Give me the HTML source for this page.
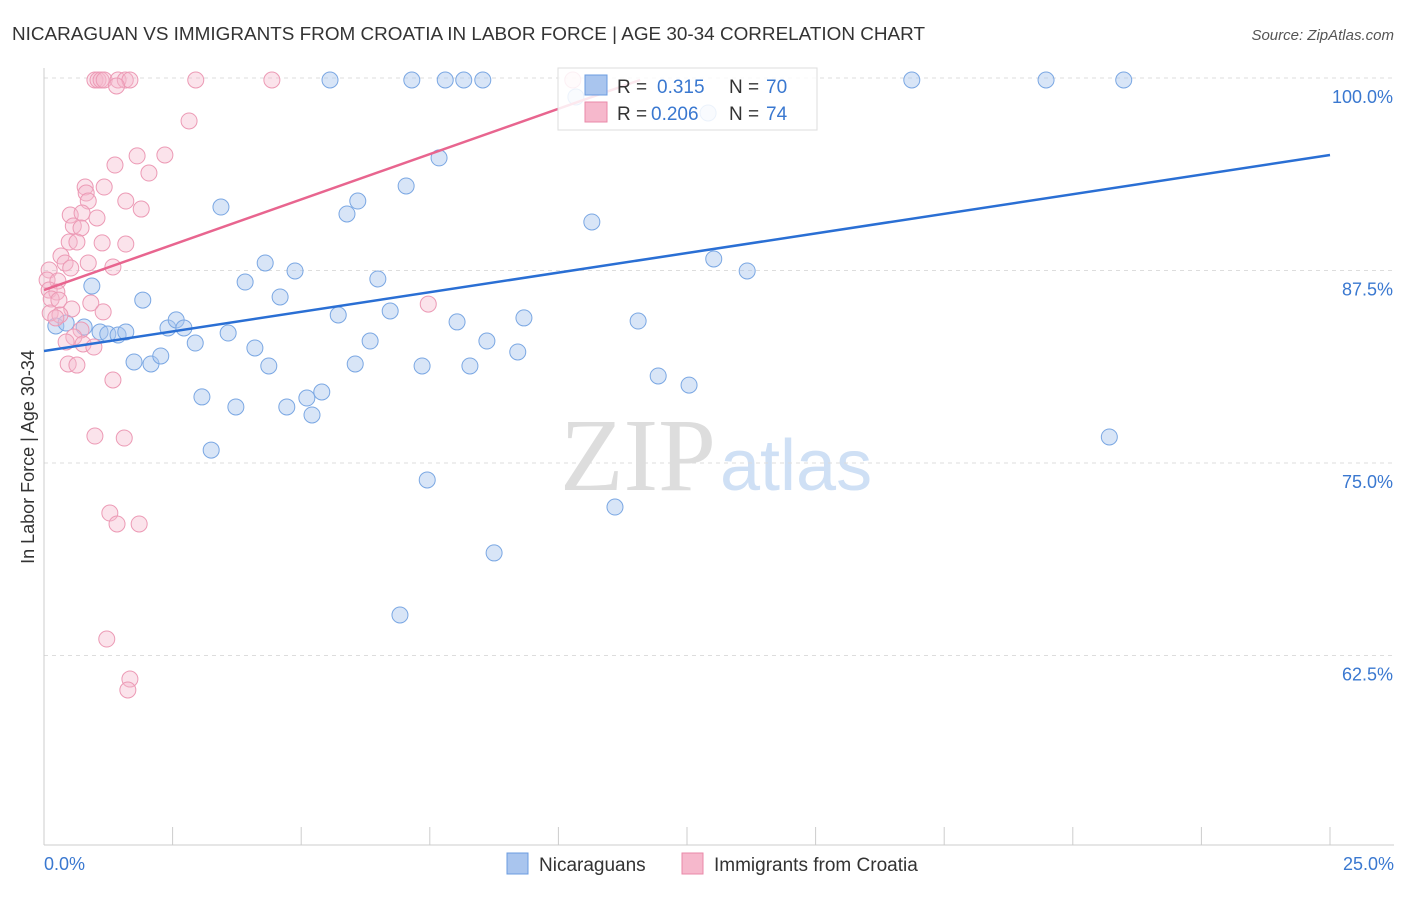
<!DOCTYPE html>
<html><head><meta charset="utf-8"><style>
body{margin:0;background:#fff;font-family:"Liberation Sans",sans-serif;}
</style></head><body>
<svg id="chart" width="1406" height="892" xmlns="http://www.w3.org/2000/svg" font-family="Liberation Sans, sans-serif">
<text x="12" y="40" font-size="18" fill="#333" textLength="913" lengthAdjust="spacingAndGlyphs">NICARAGUAN VS IMMIGRANTS FROM CROATIA IN LABOR FORCE | AGE 30-34 CORRELATION CHART</text>
<text x="1394" y="40" font-size="15" fill="#555" text-anchor="end" font-style="italic">Source: ZipAtlas.com</text>
<text x="716" y="490" font-size="104" fill="#ddd" text-anchor="end" font-family="Liberation Serif, serif">ZIP</text>
<text x="720" y="490" font-size="72" fill="#cfe0f5">atlas</text>
<g id="grid"></g><g id="axes"></g><g id="points"></g><g id="trends"></g>
<text transform="translate(34,457) rotate(-90)" font-size="18" fill="#333" text-anchor="middle">In Labor Force | Age 30-34</text>
<g>
<rect x="558" y="68" width="259" height="62" fill="#fff" fill-opacity="0.85" stroke="#ddd"/>
<rect x="585" y="75" width="22" height="20" fill="#a9c5ee" stroke="#6b9ce0"/>
<text x="617" y="93" font-size="19" fill="#333">R =</text><text x="657" y="93" font-size="19" fill="#3a78d0">0.315</text>
<text x="729" y="93" font-size="19" fill="#333">N =</text><text x="766" y="93" font-size="19" fill="#3a78d0">70</text>
<rect x="585" y="102" width="22" height="20" fill="#f6b8cc" stroke="#e989a8"/>
<text x="617" y="120" font-size="19" fill="#333">R =</text><text x="651" y="120" font-size="19" fill="#3a78d0">0.206</text>
<text x="729" y="120" font-size="19" fill="#333">N =</text><text x="766" y="120" font-size="19" fill="#3a78d0">74</text>
</g>
<g>
<rect x="507" y="853" width="21" height="21" fill="#a9c5ee" stroke="#6b9ce0"/>
<text x="539" y="871" font-size="19" fill="#333">Nicaraguans</text>
<rect x="682" y="853" width="21" height="21" fill="#f6b8cc" stroke="#e989a8"/>
<text x="714" y="871" font-size="19" fill="#333">Immigrants from Croatia</text>
</g>
</svg>
<script>
const xTicks=[0,2.5,5,7.5,10,12.5,15,17.5,20,22.5,25];
const yTicks=[100,87.5,75,62.5];
const yTickLabels=["100.0%","87.5%","75.0%","62.5%"];
const xEndLabels=["0.0%","25.0%"];
const blueX=[5.56,7.15,7.80,8.16,8.53,16.87,19.48,20.99,7.68,7.04,3.44,6.10,5.89,10.65,4.30,4.88,3.91,6.49,13.02,13.67,0.93,1.92,4.59,5.72,6.73,8.03,9.33,11.55,0.23,0.43,0.78,1.09,1.24,1.44,1.59,2.41,2.57,2.72,2.94,3.58,4.10,6.34,8.61,9.21,1.75,2.08,2.27,4.37,6.05,7.35,8.28,11.94,12.54,3.07,3.73,4.72,5.11,5.40,5.21,3.25,7.45,11.10,8.75,6.92,20.71,10.34,12.91];
const blueY=[99.87,99.87,99.87,99.87,99.87,99.87,99.87,99.87,94.81,92.99,91.62,92.01,91.17,90.65,87.99,87.47,86.75,86.95,88.25,87.47,86.49,85.58,85.78,84.61,84.87,84.16,84.42,84.22,83.90,84.09,83.83,83.51,83.38,83.31,83.51,83.77,84.29,83.77,82.79,83.44,82.47,82.92,82.92,82.21,81.56,81.43,81.95,81.30,81.43,81.30,81.30,80.65,80.06,79.29,78.64,78.64,79.22,79.61,78.12,75.84,73.90,72.14,69.16,65.13,76.69,98.77,97.73];
const pinkX=[0.99,1.05,1.11,1.17,1.44,1.58,1.67,2.95,4.43,10.28,1.41,2.82,1.81,2.35,1.38,2.04,0.80,1.17,0.82,0.86,1.59,1.89,0.51,0.74,1.03,0.57,0.72,0.49,0.64,1.13,1.59,0.33,0.41,0.86,0.52,1.34,0.10,0.06,0.27,0.10,0.25,0.14,0.29,0.91,0.54,1.15,0.12,0.31,0.23,0.72,0.58,0.43,0.76,0.97,0.47,0.64,1.34,7.47,0.99,1.56,1.28,1.42,1.85,1.22,1.67,1.63];
const pinkY=[99.87,99.87,99.87,99.87,99.87,99.87,99.87,99.87,99.87,99.87,99.48,97.21,94.94,95.00,94.35,93.83,92.92,92.92,92.53,92.01,92.01,91.49,91.10,91.23,90.91,90.39,90.26,89.35,89.35,89.29,89.22,88.44,87.99,87.99,87.66,87.73,87.53,86.88,86.82,86.23,86.10,85.65,85.58,85.39,85.00,84.81,84.74,84.61,84.42,83.64,83.18,82.86,82.73,82.53,81.43,81.36,80.39,85.32,76.75,76.62,71.75,71.04,71.04,63.57,60.97,60.26];
const blueTrendX=[0,25], blueTrendY=[82.27,95.0];
const pinkTrendX=[0,11.59], pinkTrendY=[86.23,99.87];
const NS="http://www.w3.org/2000/svg";
const sx=v=>44+v/25*1286, sy=v=>78+(100-v)/12.5*192.5;
function mk(t,a,p){const e=document.createElementNS(NS,t);for(const k in a)e.setAttribute(k,a[k]);document.getElementById(p).appendChild(e);return e;}
yTicks.forEach((t,i)=>{const g=mk('line',{x1:44,x2:1394,y1:sy(t),y2:sy(t),stroke:'#ddd','stroke-dasharray':'4,4'},'grid');


const l=mk('text',{x:1393,y:sy(t)+25,'font-size':18,fill:'#3a78d0','text-anchor':'end'},'axes');l.textContent=yTickLabels[i];

});
const ax=mk('line',{x1:44,x2:1394,y1:845,y2:845,stroke:'#ccc'},'axes');


const ay=mk('line',{x1:44,x2:44,y1:68,y2:845,stroke:'#ccc'},'axes');


xTicks.forEach(t=>{const e=mk('line',{x1:sx(t),x2:sx(t),y1:827,y2:845,stroke:'#ccc'},'axes');

});
[[0,'start',44],[25,'end',1394]].forEach((d,i)=>{const l=mk('text',{x:d[2],y:870,'font-size':18,fill:'#3a78d0','text-anchor':d[1]},'axes');l.textContent=xEndLabels[i];

});
blueX.forEach((v,i)=>{const c=mk('circle',{cx:sx(v),cy:sy(blueY[i]),r:8,fill:'rgba(169,197,238,0.45)',stroke:'#7aa7e3','stroke-width':1},'points');

});
pinkX.forEach((v,i)=>{const c=mk('circle',{cx:sx(v),cy:sy(pinkY[i]),r:8,fill:'rgba(246,184,204,0.4)',stroke:'#ec9ab5','stroke-width':1},'points');

});
const bl=mk('line',{x1:sx(blueTrendX[0]),y1:sy(blueTrendY[0]),x2:sx(blueTrendX[1]),y2:sy(blueTrendY[1]),stroke:'#2a6fd4','stroke-width':2.5},'trends');


const pl=mk('line',{x1:sx(pinkTrendX[0]),y1:sy(pinkTrendY[0]),x2:sx(pinkTrendX[1]),y2:sy(pinkTrendY[1]),stroke:'#e8658f','stroke-width':2.5},'trends');


</script>
</body></html>
